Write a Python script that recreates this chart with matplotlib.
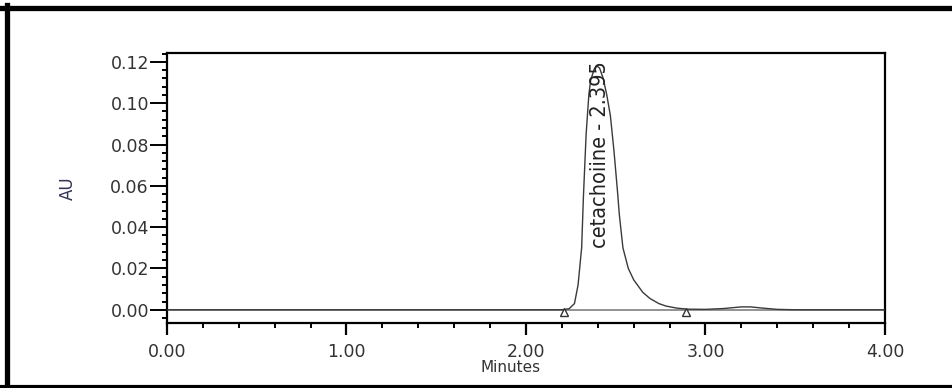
import matplotlib
matplotlib.use("Agg")
import matplotlib.pyplot as plt
from matplotlib.lines import Line2D
from matplotlib.ticker import MultipleLocator, FormatStrFormatter

# Chromatogram trace (minutes, AU)
time_min = [0.00, 2.20, 2.24, 2.27, 2.29, 2.31, 2.32, 2.335, 2.35, 2.36, 2.38, 2.395,
            2.41, 2.43, 2.45, 2.47, 2.49, 2.51, 2.52, 2.54, 2.57, 2.60, 2.65, 2.69,
            2.74, 2.78, 2.84, 2.90, 3.00, 3.10, 3.20, 3.25, 3.32, 3.40, 3.50, 4.00]
absorb_au = [0.0, 0.0, 0.0005, 0.003, 0.012, 0.030, 0.055, 0.085, 0.104, 0.111, 0.1165, 0.118,
             0.117, 0.112, 0.104, 0.094, 0.077, 0.057, 0.046, 0.030, 0.020, 0.0145, 0.0085, 0.0055,
             0.003, 0.0018, 0.0008, 0.0003, 0.0002, 0.0006, 0.0014, 0.0014, 0.0008, 0.0002, 0.0, 0.0]

# integration start / end markers
marker_times = [2.21, 2.89]
peak_name = "cetachoiine"
peak_rt = 2.395

x_ticks = [0.0, 1.0, 2.0, 3.0, 4.0]
y_ticks = [0.00, 0.02, 0.04, 0.06, 0.08, 0.10, 0.12]

W, H = 953, 388
fig = plt.figure(figsize=(W / 100, H / 100), dpi=100)
fig.patch.set_facecolor('white')

ax = fig.add_axes([167 / W, 1 - 323 / H, (885 - 167) / W, (323 - 53) / H])

# baseline and trace
ax.plot([x_ticks[0], x_ticks[-1]], [0, 0], color='#8a8a8a', lw=1.3, zorder=2)
ax.plot(time_min, absorb_au, color='#3a3a3a', lw=1.0, zorder=3)
ax.plot(marker_times, [-0.0012] * len(marker_times), linestyle='none', marker='^',
        markersize=6, markerfacecolor='white', markeredgecolor='#333333', mew=1.0, zorder=4)

ax.text(peak_rt + 0.015, 0.1205, peak_name + " - " + f"{peak_rt:.3f}", rotation=90,
        ha='center', va='top', fontsize=15.5, color='#222222',
        family='DejaVu Sans', fontstretch='condensed', zorder=5)

ax.set_xlim(x_ticks[0], x_ticks[-1])
ax.set_ylim(-0.0064, 0.1243)
ax.set_xticks(x_ticks)
ax.set_yticks(y_ticks)
ax.xaxis.set_minor_locator(MultipleLocator(0.2))
ax.yaxis.set_minor_locator(MultipleLocator(0.004))
ax.xaxis.set_major_formatter(FormatStrFormatter('%.2f'))
ax.yaxis.set_major_formatter(FormatStrFormatter('%.2f'))

for sp in ax.spines.values():
    sp.set_linewidth(1.6)
    sp.set_color('black')

ax.tick_params(axis='x', which='major', direction='out', length=8.6, width=1.6,
               pad=6, labelsize=12.5, labelcolor='#333333')
ax.tick_params(axis='x', which='minor', direction='out', length=3.6, width=1.4)
ax.tick_params(axis='y', which='major', direction='out', length=12, width=1.4,
               pad=1, labelsize=12.5, labelcolor='#333333')
ax.tick_params(axis='y', which='minor', direction='out', length=3.6, width=1.4)

fig.text(68 / W, 1 - 188 / H, "AU", rotation=90, ha='center', va='center',
         fontsize=12, color='#333355')
fig.text(511 / W, 1 - 367 / H, "Minutes", ha='center', va='center',
         fontsize=11, color='#333333')

# outer frame of the screenshot
fig.add_artist(Line2D([0, 1], [1 - 7.5 / H, 1 - 7.5 / H], color='black', lw=3.8,
                      transform=fig.transFigure))
fig.add_artist(Line2D([7.5 / W, 7.5 / W], [0, 1 - 5 / H], color='black', lw=3.8,
                      transform=fig.transFigure))
fig.add_artist(Line2D([0, 1], [1.5 / H, 1.5 / H], color='black', lw=3.0,
                      transform=fig.transFigure))

fig.savefig("out.png", dpi=100)
